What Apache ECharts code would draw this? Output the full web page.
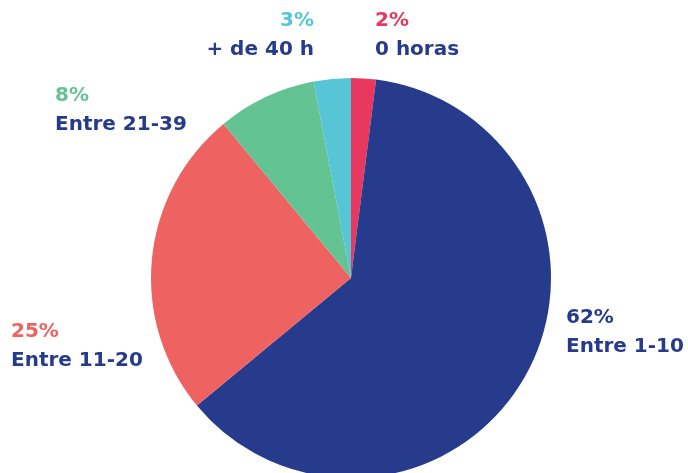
<!DOCTYPE html>
<html><head><meta charset="utf-8">
<script src="https://cdn.jsdelivr.net/npm/echarts@6/dist/echarts.min.js"></script>
<style>html,body{margin:0;padding:0;background:#fff}#c{width:688px;height:473px}</style>
</head><body><div id="c"></div>
<script>
const categories = ['0 horas', 'Entre 1-10', 'Entre 11-20', 'Entre 21-39', '+ de 40 h'];
const values = [2, 62, 25, 8, 3];
const colors = ['#e8385f', '#263b8b', '#ef6262', '#63c392', '#56c6d6'];
const labelPos = [
  {x: 375, y: 35, align: 'left'},
  {x: 566, y: 332, align: 'left'},
  {x: 11, y: 346, align: 'left'},
  {x: 55, y: 110, align: 'left'},
  {x: 314, y: 35, align: 'right'}
];
const font = {fontFamily: 'DejaVu Sans', fontWeight: 'bold', fontSize: 20, lineHeight: 29};
const rich = {n: Object.assign({color: '#263b8b'}, font)};
colors.forEach((c, i) => { rich['p' + i] = Object.assign({color: c}, font); });
const chart = echarts.init(document.getElementById('c'));
chart.setOption({
  animation: false,
  series: [{
    type: 'pie',
    center: [351, 278],
    radius: 200,
    startAngle: 90,
    clockwise: true,
    data: categories.map((n, i) => ({name: n, value: values[i], itemStyle: {color: colors[i]}})),
    label: {
      show: true,
      position: 'outside',
      overflow: 'none',
      formatter: p => '{p' + p.dataIndex + '|' + p.value + '%}\n{n|' + p.name + '}',
      rich: rich
    },
    labelLine: {show: false},
    labelLayout: p => Object.assign({verticalAlign: 'middle'}, labelPos[p.dataIndex])
  }]
});
</script></body></html>
